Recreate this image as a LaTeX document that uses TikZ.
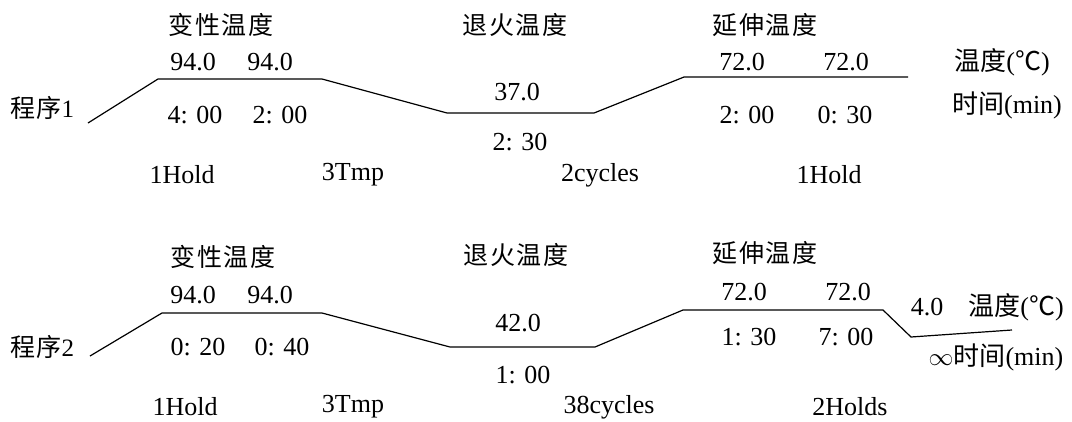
\documentclass[tikz,border=0pt]{standalone}
\usepackage{fontspec}
\setmainfont{Liberation Serif}
\newfontfamily\cjk{Noto Sans CJK SC}
\begin{document}
\begin{tikzpicture}[x=1pt,y=-1pt,
  lbl/.style={inner sep=0pt, font=\fontsize{26}{28}\selectfont},
  zh/.style={inner sep=0pt, font=\fontsize{25}{28}\selectfont\cjk\addfontfeature{LetterSpace=6}},
  prof/.style={line width=1.2pt, line join=miter}]
\useasboundingbox (0,0) rectangle (1072,421);
% ---------- Program 1 ----------
\node[zh] (p1) at (42,108) {程序\rmfamily 1};
\node[zh] (d1) at (221,25) {变性温度};
\node[zh] (a1) at (515,25) {退火温度};
\node[zh] (e1) at (765,25) {延伸温度};
\node[lbl] (t11) at (193,62) {94.0};
\node[lbl] (t12) at (270,62) {94.0};
\node[lbl] (m11) at (195,115) {4: 00};
\node[lbl] (m12) at (280,115) {2: 00};
\node[lbl] (t13) at (517,92) {37.0};
\node[lbl] (m13) at (520,142) {2: 30};
\node[lbl] (t14) at (742,62) {72.0};
\node[lbl] (t15) at (846,62) {72.0};
\node[lbl] (m14) at (747,115) {2: 00};
\node[lbl] (m15) at (845,115) {0: 30};
\node[lbl] (u1) at (1002,62) {{\cjk 温度}({\cjk ℃})};
\node[lbl] (v1) at (1007,105) {{\cjk 时间}(min)};
\node[lbl] (s11) at (182,175) {1Hold};
\node[lbl] (s12) at (353,175) {3Tmp};
\node[lbl] (s13) at (600,175) {2cycles};
\node[lbl] (s14) at (829,175) {1Hold};
\coordinate (a0) at (88,123);
\coordinate (a1p) at (158,79);
\coordinate (a2) at (322,79);
\coordinate (a3) at (447,113);
\coordinate (a4) at (594,113);
\coordinate (a5) at (684,77);
\coordinate (a6) at (908,77);
\draw[prof] (a0) -- (a1p) -- (a2) -- (a3) -- (a4) -- (a5) -- (a6);
% ---------- Program 2 ----------
\node[zh] (p2) at (42,347) {程序\rmfamily 2};
\node[zh] (d2) at (223,257) {变性温度};
\node[zh] (a2n) at (516,255) {退火温度};
\node[zh] (e2) at (765,253) {延伸温度};
\node[lbl] (t21) at (193,295) {94.0};
\node[lbl] (t22) at (270,295) {94.0};
\node[lbl] (m21) at (198,347) {0: 20};
\node[lbl] (m22) at (282,347) {0: 40};
\node[lbl] (t23) at (518,323) {42.0};
\node[lbl] (m23) at (523,375) {1: 00};
\node[lbl] (t24) at (744,292) {72.0};
\node[lbl] (t25) at (848,292) {72.0};
\node[lbl] (m24) at (749,337) {1: 30};
\node[lbl] (m25) at (846,337) {7: 00};
\node[lbl] (t26) at (927,307) {4.0};
\node[lbl] (u2) at (1016,307) {{\cjk 温度}({\cjk ℃})};
\node[lbl] (v2) at (996,357) {$\infty${\cjk 时间}(min)};
\node[lbl] (s21) at (185,407) {1Hold};
\node[lbl] (s22) at (353,407) {3Tmp};
\node[lbl] (s23) at (609,407) {38cycles};
\node[lbl] (s24) at (850,407) {2Holds};
\coordinate (b0) at (90,356);
\coordinate (b1) at (162,313);
\coordinate (b2) at (322,313);
\coordinate (b3) at (450,347);
\coordinate (b4) at (595,347);
\coordinate (b5) at (683,310);
\coordinate (b6) at (883,310);
\coordinate (b7) at (911,337);
\coordinate (b8) at (1012,330);
\draw[prof] (b0) -- (b1) -- (b2) -- (b3) -- (b4) -- (b5) -- (b6) -- (b7) -- (b8);
\end{tikzpicture}
\end{document}
